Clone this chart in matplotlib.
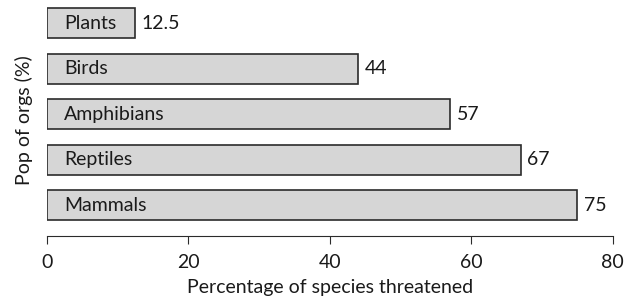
import numpy as np
from matplotlib import pyplot as plt

groups = ['Plants', 'Birds', 'Amphibians', 'Reptiles', 'Mammals']
threatened = [12.5, 44, 57, 67, 75]
xticks = [0, 20, 40, 60, 80]

plt.rcParams['font.family'] = ['Lato', 'DejaVu Sans']


def main():
    fig = plt.figure(figsize=(6.26, 3.05), dpi=100)
    ax = fig.add_axes([0.075, 0.226, 0.904, 0.758])
    y = np.arange(len(groups))
    ax.barh(y, threatened, height=0.66, color='#d6d6d6', edgecolor='#2b2b2b', linewidth=1.2)
    for yi, name, v in zip(y, groups, threatened):
        ax.text(2.4, yi, name, va='center', ha='left', fontsize=14, color='#1a1a1a')
        ax.text(v + 0.9, yi, '%g' % v, va='center', ha='left', fontsize=14, color='#1a1a1a')
    ax.set_xlim(0, 80)
    ax.set_ylim(len(groups) - 1 + 0.68, -0.4)
    ax.set_xticks(xticks)
    ax.set_yticks([])
    for s in ['top', 'right', 'left']:
        ax.spines[s].set_visible(False)
    ax.spines['bottom'].set_color('#2b2b2b')
    ax.tick_params(axis='x', labelsize=14, length=6, colors='#2b2b2b', labelcolor='#1a1a1a', pad=7)
    ax.set_xlabel('Percentage of species threatened', fontsize=14, labelpad=6, color='#1a1a1a')
    ax.set_ylabel('Pop of orgs (%)', fontsize=14, labelpad=10, color='#1a1a1a')
    fig.savefig('out.png')


if __name__ == '__main__':
    main()
